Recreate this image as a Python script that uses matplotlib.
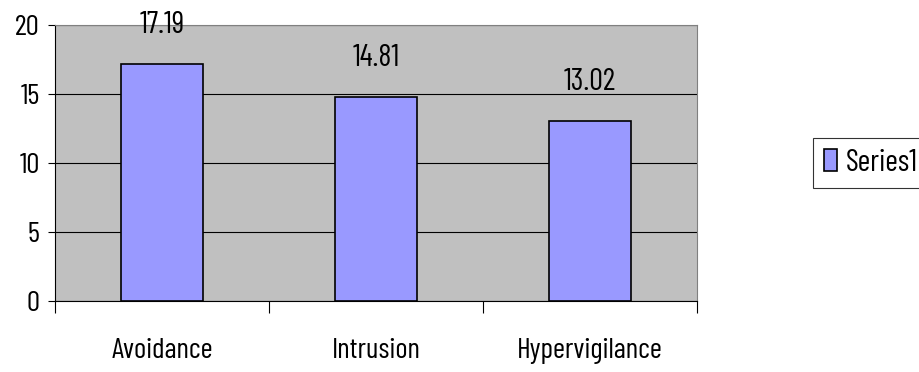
import matplotlib.pyplot as plt
import numpy as np

# data
categories = ["Avoidance", "Intrusion", "Hypervigilance"]
values = [17.19, 14.81, 13.02]
series_name = "Series1"

plt.rcParams['font.family'] = ['Barlow Condensed', 'Archivo Narrow', 'DejaVu Sans']

fig = plt.figure(figsize=(9.2, 3.72), dpi=100)
ax = fig.add_axes([55/920, 1-301/372, (697-55)/920, (301-25)/372])

x = np.arange(len(categories))
bars = ax.bar(x, values, width=0.38, color="#9999ff", edgecolor="black", linewidth=1.2,
              label=series_name, zorder=3)

ax.set_facecolor("#c0c0c0")
ax.set_xlim(-0.5, len(categories) - 0.5)
ax.set_ylim(0, 20)
ax.set_yticks([0, 5, 10, 15, 20])
ax.yaxis.grid(True, color="black", linewidth=0.8, zorder=1)
ax.set_axisbelow(True)

# x ticks at category boundaries, labels at centers
ax.set_xticks(np.arange(-0.5, len(categories), 1.0))
ax.set_xticklabels([])
ax.set_xticks(x, minor=True)
ax.set_xticklabels(categories, minor=True, fontsize=21)
ax.tick_params(axis="x", which="major", length=8.4, direction="out", color="black")
ax.tick_params(axis="x", which="minor", length=0, pad=27)
ax.tick_params(axis="y", length=5, direction="out", labelsize=21, pad=6)

for side in ["top", "right"]:
    ax.spines[side].set_color("#808080")
    ax.spines[side].set_linewidth(0.8)
for side in ["left", "bottom"]:
    ax.spines[side].set_color("black")
    ax.spines[side].set_linewidth(0.8)

# value labels
for b, v in zip(bars, values):
    ax.annotate(f"{v:.2f}", (b.get_x() + b.get_width() / 2, v), xytext=(0, 28),
                textcoords="offset points", ha="center", va="center", fontsize=22)

leg = fig.legend(loc="center left", bbox_to_anchor=(813/920, 1-163/372), borderaxespad=0,
                 frameon=True, fancybox=False, edgecolor="black", fontsize=22,
                 handlelength=0.43, handleheight=0.72, handletextpad=0.28, borderpad=0.35)
leg.get_frame().set_linewidth(0.8)

fig.savefig("out.png", dpi=100)
